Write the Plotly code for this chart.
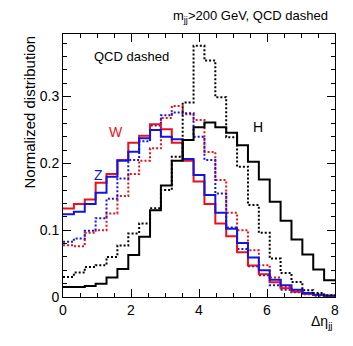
import plotly.graph_objects as go

# 25 bins of width 0.32 in delta eta_jj
BIN_EDGES = [round(0.32 * i, 2) for i in range(26)]

# normalized distributions, read bin by bin
H = [0.015, 0.015, 0.0165, 0.020, 0.029, 0.042, 0.063, 0.090, 0.130, 0.167,
     0.204, 0.235, 0.254, 0.261, 0.254, 0.246, 0.227, 0.2025, 0.176, 0.1425,
     0.114, 0.086, 0.0636, 0.041, 0.025]
H_QCD = [0.030, 0.0365, 0.045, 0.0475, 0.060, 0.077, 0.095, 0.110, 0.133, 0.160,
         0.210, 0.291, 0.376, 0.354, 0.299, 0.239, 0.195, 0.1375, 0.096, 0.0575,
         0.036, 0.0225, 0.010, 0.006, 0.0025]
W = [0.1325, 0.139, 0.146, 0.171, 0.184, 0.205, 0.231, 0.2415, 0.2585, 0.251,
     0.231, 0.204, 0.173, 0.139, 0.110, 0.091, 0.067, 0.047, 0.034, 0.022,
     0.013, 0.008, 0.005, 0.003, 0.002]
W_QCD = [0.0775, 0.076, 0.096, 0.100, 0.125, 0.151, 0.184, 0.204, 0.2225, 0.268,
         0.286, 0.2735, 0.265, 0.217, 0.175, 0.126, 0.100, 0.070, 0.0475, 0.029,
         0.015, 0.009, 0.005, 0.003, 0.002]
Z = [0.124, 0.1275, 0.139, 0.156, 0.180, 0.204, 0.2175, 0.2375, 0.250, 0.240,
     0.236, 0.2065, 0.1825, 0.1525, 0.126, 0.102, 0.081, 0.059, 0.040, 0.026,
     0.0175, 0.011, 0.006, 0.0035, 0.002]
Z_QCD = [0.0825, 0.0875, 0.099, 0.118, 0.147, 0.1775, 0.205, 0.233, 0.2565, 0.272,
         0.276, 0.275, 0.240, 0.205, 0.155, 0.104, 0.072, 0.046, 0.0325, 0.0175,
         0.011, 0.007, 0.004, 0.002, 0.001]

FONT = "Liberation Sans, Arial, sans-serif"
RED = "#e8121b"
BLUE = "#1414e0"
BLACK = "#000000"


def step(values, color, dotted):
    return go.Scatter(
        x=BIN_EDGES,
        y=values + [values[-1]],
        mode="lines",
        line=dict(shape="hv", color=color, width=2, dash="2px,2px" if dotted else "solid"),
        showlegend=False,
        hoverinfo="skip",
    )


fig = go.Figure()
fig.add_trace(step(W_QCD, RED, True))
fig.add_trace(step(Z_QCD, BLUE, True))
fig.add_trace(step(W, RED, False))
fig.add_trace(step(Z, BLUE, False))
fig.add_trace(step(H_QCD, BLACK, True))
fig.add_trace(step(H, BLACK, False))

axis_common = dict(
    showline=True, linecolor="black", linewidth=1, mirror="allticks",
    ticks="inside", ticklen=8, tickcolor="black", tickwidth=1,
    showgrid=False, zeroline=False,
    tickfont=dict(family=FONT, size=14, color="black"),
)

fig.update_xaxes(
    range=[0, 8], tick0=0, dtick=2,
    minor=dict(ticks="inside", dtick=0.5, ticklen=4, tickcolor="black"),
    **axis_common,
)
fig.update_yaxes(
    range=[0, 0.3936], tick0=0, dtick=0.1,
    tickvals=[0, 0.1, 0.2, 0.3], ticktext=["0", "0.1", "0.2", "0.3"],
    minor=dict(ticks="inside", dtick=0.02, ticklen=4, tickcolor="black"),
    **axis_common,
)

annotations = [
    dict(text="m<sub>jj</sub>&gt;200 GeV, QCD dashed", xref="paper", yref="paper",
         x=0.982, y=1.065, xanchor="right", yanchor="middle", font=dict(size=13)),
    dict(text="QCD dashed", x=2.01, y=0.3595, xanchor="center", yanchor="middle",
         font=dict(size=13)),
    dict(text="W", x=1.57, y=0.247, font=dict(size=14, color=RED)),
    dict(text="Z", x=1.03, y=0.1825, font=dict(size=14, color=BLUE)),
    dict(text="H", x=5.735, y=0.255, font=dict(size=14, color=BLACK)),
    dict(text="Δη<sub>jj</sub>", xref="paper", yref="paper", x=1.0, y=-0.095,
         xanchor="right", yanchor="middle", font=dict(size=14)),
    dict(text="Normalized distribution", xref="paper", yref="paper", x=-0.125, y=1.0,
         xanchor="center", yanchor="top", textangle=-90, font=dict(size=15)),
]
for a in annotations:
    a.setdefault("showarrow", False)
    a["font"].setdefault("family", FONT)
    a["font"].setdefault("color", "black")
fig.update_layout(annotations=annotations)

fig.update_layout(
    width=353, height=346,
    margin=dict(l=63, r=18, t=34, b=49),
    paper_bgcolor="white", plot_bgcolor="white",
    font=dict(family=FONT, color="black"),
)

# page body has a default margin; drop it so the figure sits at the window origin
fig.write_html("out.html", post_script="document.body.style.margin='0';",
               config={"displayModeBar": False})
